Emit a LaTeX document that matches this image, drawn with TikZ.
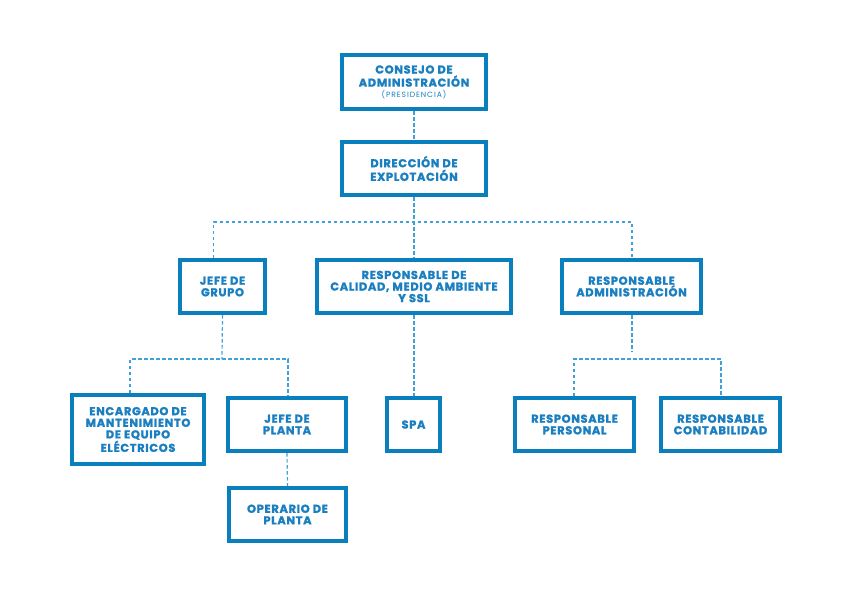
\documentclass[tikz,border=0pt]{standalone}
\usepackage{fontspec}
\setmainfont{Poppins}
\newfontfamily\boxfont{Poppins}[LetterSpace=6,BoldFeatures={FakeBold=1.6}]
\newfontfamily\smallfont{Poppins}[LetterSpace=12]
\usetikzlibrary{backgrounds}
\definecolor{boxblue}{HTML}{0A7FBE}
\definecolor{txtblue}{HTML}{1A7FC0}
\definecolor{lineblue}{HTML}{3EA2D9}
\tikzset{
  orgbox/.style={draw=boxblue, line width=4pt, fill=white, inner sep=0pt,
    align=center, text=txtblue, font=\boxfont\fontsize{11.4}{11.6}\selectfont\bfseries},
  conn/.style={draw=lineblue, line width=1.2pt, dash pattern=on 3.5pt off 2.5pt}
}
\begin{document}
\begin{tikzpicture}[x=1pt,y=1pt]
\useasboundingbox (0,0) rectangle (850,-595);
\node[orgbox, minimum width=144pt, minimum height=54pt] (cons) at (414,-82)
  {CONSEJO DE\\[1.5pt]ADMINISTRACIÓN\\[-1pt]{\smallfont\fontsize{7.6}{8}\selectfont\mdseries (PRESIDENCIA)}};
\node[orgbox, minimum width=144pt, minimum height=53pt] (dir) at (414,-168.5)
  {DIRECCIÓN DE\\[2pt]EXPLOTACIÓN};
\node[orgbox, minimum width=85pt, minimum height=53pt] (jg) at (222.5,-286.5)
  {JEFE DE\\GRUPO};
\node[orgbox, minimum width=194pt, minimum height=53pt] (cal) at (414,-286.5)
  {RESPONSABLE DE\\CALIDAD, MEDIO AMBIENTE\\Y SSL};
\node[orgbox, minimum width=139pt, minimum height=53pt] (adm) at (631.5,-286.5)
  {RESPONSABLE\\ADMINISTRACIÓN};
\node[orgbox, minimum width=132pt, minimum height=69pt] (enc) at (138,-429.5)
  {ENCARGADO DE\\MANTENIMIENTO\\DE EQUIPO\\ELÉCTRICOS};
\node[orgbox, minimum width=118pt, minimum height=53pt] (jp) at (287,-424.5)
  {JEFE DE\\PLANTA};
\node[orgbox, minimum width=117pt, minimum height=53pt] (op) at (287.5,-514.5)
  {OPERARIO DE\\PLANTA};
\node[orgbox, minimum width=53pt, minimum height=53pt] (spa) at (413.5,-424.5)
  {SPA};
\node[orgbox, minimum width=119pt, minimum height=53pt] (per) at (574.5,-424.5)
  {RESPONSABLE\\PERSONAL};
\node[orgbox, minimum width=119pt, minimum height=53pt] (con) at (720.5,-424.5)
  {RESPONSABLE\\CONTABILIDAD};
\coordinate (bus1) at (414,-222);
\coordinate (bus2) at (222,-359);
\coordinate (bus3) at (632,-359);
\begin{scope}[on background layer]
  \draw[conn] (cons.south) -- (dir.south);
  \draw[conn] (dir.south) -- (cal.north);
  \draw[conn] ([xshift=-9pt]jg.north) |- (bus1) -| ([xshift=0.5pt]adm.north);
  \draw[conn] (jg.south) -- (bus2);
  \draw[conn] ([xshift=-8pt]enc.north) |- (bus2) -| ([xshift=1pt]jp.north);
  \draw[conn] (jp.south) -- (op.north);
  \draw[conn] (cal.south) -- ([xshift=0.5pt]spa.north);
  \draw[conn] ([xshift=0.5pt]adm.south) -- ([yshift=7pt]bus3);
  \draw[conn] ([xshift=-0.5pt]per.north) |- (bus3) -| ([xshift=0.5pt]con.north);
\end{scope}
\end{tikzpicture}
\end{document}
